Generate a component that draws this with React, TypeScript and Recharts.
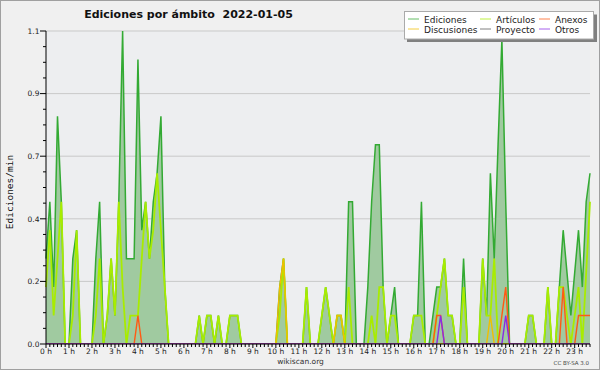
import React from 'react';
import { ComposedChart, Area, Line, XAxis, YAxis, CartesianGrid } from 'recharts';

// wikiscan, 2022-01-05: edits per minute in 10-minute buckets, 0:00 to 23:40 (143 points)
const ediciones = [
  0.3, 0.5, 0.2, 0.8, 0.5, 0, 0, 0.3, 0.4, 0, 0, 0, // 0-1 h
  0, 0.3, 0.5, 0, 0.1, 0.3, 0.1, 0.5, 1.1, 0.3, 0.3, 0.3, // 2-3 h
  1.0, 0.4, 0.5, 0.3, 0.5, 0.6, 0.8, 0.2, 0, 0, 0, 0, // 4-5 h
  0, 0, 0, 0, 0.1, 0, 0.1, 0.1, 0, 0.1, 0, 0, // 6-7 h
  0.1, 0.1, 0.1, 0, 0, 0, 0, 0, 0, 0, 0, 0, // 8-9 h
  0, 0.2, 0.3, 0, 0, 0, 0, 0, 0.2, 0, 0, 0, // 10-11 h
  0.1, 0.2, 0.1, 0, 0.1, 0.1, 0, 0.5, 0.5, 0, 0, 0, // 12-13 h
  0.2, 0.5, 0.7, 0.7, 0.2, 0, 0.1, 0.2, 0, 0, 0, 0, // 14-15 h
  0.1, 0.1, 0.5, 0, 0, 0.1, 0.2, 0.2, 0.3, 0.1, 0.1, 0, // 16-17 h
  0, 0.3, 0, 0, 0, 0, 0.3, 0.1, 0.6, 0.3, 0.7, 1.07, // 18-19 h
  0.5, 0, 0, 0, 0, 0, 0.1, 0.1, 0, 0, 0, 0.2, // 20-21 h
  0, 0, 0.2, 0.4, 0.25, 0.1, 0.25, 0.4, 0.2, 0.5, 0.6, // 22-23 h
];

const articulos = [
  0.2, 0.4, 0.1, 0.3, 0.5, 0, 0, 0.1, 0.4, 0, 0, 0,
  0, 0.1, 0.3, 0, 0.1, 0.3, 0.1, 0.5, 0.2, 0, 0.1, 0.1,
  0.1, 0.3, 0.5, 0.3, 0.4, 0.6, 0.4, 0.2, 0, 0, 0, 0,
  0, 0, 0, 0, 0.1, 0, 0.1, 0.1, 0, 0.1, 0, 0,
  0.1, 0.1, 0.1, 0, 0, 0, 0, 0, 0, 0, 0, 0,
  0, 0.1, 0.3, 0, 0, 0, 0, 0, 0.2, 0, 0, 0,
  0.1, 0.2, 0.1, 0, 0.1, 0.1, 0, 0.2, 0, 0, 0, 0,
  0, 0.1, 0, 0.2, 0.2, 0, 0.1, 0.1, 0, 0, 0, 0,
  0.1, 0.1, 0.1, 0, 0, 0, 0.1, 0.2, 0.3, 0.1, 0.1, 0,
  0, 0.2, 0, 0, 0, 0, 0.3, 0.1, 0.1, 0.3, 0, 0,
  0, 0, 0, 0, 0, 0, 0.1, 0.1, 0, 0, 0, 0.2,
  0, 0, 0.2, 0.2, 0.1, 0, 0.1, 0.2, 0, 0.25, 0.5,
];

const discusiones = [
  0, 0, 0, 0, 0, 0, 0, 0, 0, 0, 0, 0,
  0, 0, 0, 0, 0, 0, 0, 0, 0, 0, 0, 0,
  0, 0, 0, 0, 0, 0, 0, 0, 0, 0, 0, 0,
  0, 0, 0, 0, 0, 0, 0, 0, 0, 0, 0, 0,
  0, 0, 0, 0, 0, 0, 0, 0, 0, 0, 0, 0,
  0, 0.2, 0.3, 0, 0, 0, 0, 0, 0, 0, 0, 0,
  0, 0, 0, 0, 0.1, 0.1, 0, 0, 0, 0, 0, 0,
  0, 0, 0, 0, 0, 0, 0, 0, 0, 0, 0, 0,
  0, 0, 0, 0, 0, 0, 0, 0, 0, 0, 0, 0,
  0, 0, 0, 0, 0, 0, 0, 0, 0.1, 0, 0, 0,
  0, 0, 0, 0, 0, 0, 0, 0, 0, 0, 0, 0,
  0, 0, 0, 0, 0, 0, 0, 0, 0, 0, 0,
];

const anexos = [
  0, 0, 0, 0, 0, 0, 0, 0, 0, 0, 0, 0,
  0, 0, 0, 0, 0, 0, 0, 0, 0, 0, 0, 0,
  0.1, 0, 0, 0, 0, 0, 0, 0, 0, 0, 0, 0,
  0, 0, 0, 0, 0, 0, 0, 0, 0, 0, 0, 0,
  0, 0, 0, 0, 0, 0, 0, 0, 0, 0, 0, 0,
  0, 0, 0, 0, 0, 0, 0, 0, 0, 0, 0, 0,
  0, 0, 0, 0, 0, 0, 0, 0, 0, 0, 0, 0,
  0, 0, 0, 0, 0, 0, 0, 0, 0, 0, 0, 0,
  0, 0, 0, 0, 0, 0, 0.1, 0.1, 0, 0, 0, 0,
  0, 0, 0, 0, 0, 0, 0, 0, 0, 0, 0, 0.1,
  0.2, 0, 0, 0, 0, 0, 0, 0, 0, 0, 0, 0,
  0, 0, 0, 0.2, 0, 0, 0, 0.1, 0.1, 0.1, 0.1,
];

const otros = [
  0, 0, 0, 0, 0, 0, 0, 0, 0, 0, 0, 0,
  0, 0, 0, 0, 0, 0, 0, 0, 0, 0, 0, 0,
  0, 0, 0, 0, 0, 0, 0, 0, 0, 0, 0, 0,
  0, 0, 0, 0, 0, 0, 0, 0, 0, 0, 0, 0,
  0, 0, 0, 0, 0, 0, 0, 0, 0, 0, 0, 0,
  0, 0, 0, 0, 0, 0, 0, 0, 0, 0, 0, 0,
  0, 0, 0, 0, 0, 0, 0, 0, 0, 0, 0, 0,
  0, 0, 0, 0, 0, 0, 0, 0, 0, 0, 0, 0,
  0, 0, 0, 0, 0, 0, 0, 0.1, 0, 0, 0, 0,
  0, 0, 0, 0, 0, 0, 0, 0, 0, 0, 0, 0,
  0.1, 0, 0, 0, 0, 0, 0, 0, 0, 0, 0, 0,
  0, 0, 0, 0, 0, 0, 0, 0, 0, 0, 0,
];

const hourLabels = [
  '0 h', '1 h', '2 h', '3 h', '4 h', '5 h', '6 h', '7 h', '8 h', '9 h', '10 h', '11 h',
  '12 h', '13 h', '14 h', '15 h', '16 h', '17 h', '18 h', '19 h', '20 h', '21 h', '22 h', '23 h',
];
const yTicks = [0, 0.22, 0.44, 0.66, 0.88, 1.1];
const yTickLabels = ['0.0', '0.2', '0.4', '0.7', '0.9', '1.1'];

const legendItems = [
  { name: 'Ediciones', color: '#33aa33', col: 0, row: 0 },
  { name: 'Discusiones', color: '#f0be00', col: 0, row: 1 },
  { name: 'Artículos', color: '#a8ec00', col: 1, row: 0 },
  { name: 'Proyecto', color: '#555555', col: 1, row: 1 },
  { name: 'Anexos', color: '#ff5a14', col: 2, row: 0 },
  { name: 'Otros', color: '#8a2be6', col: 2, row: 1 },
];

const rows = ediciones.map((v, i) => ({
  i,
  ediciones: v,
  articulos: articulos[i],
  discusiones: discusiones[i],
  anexos: anexos[i],
  otros: otros[i],
}));

// 4 minor steps between labelled y ticks, one x tick per 10 min
const yAllTicks = [yTicks[0]].concat(
  ...yTicks.slice(1).map((t, k) => [1, 2, 3, 4].map((s) => yTicks[k] + ((t - yTicks[k]) * s) / 4))
);
const xAllTicks = rows.map((r) => r.i);

const FONT = 'DejaVu Sans';

const YTick = (props: any) => {
  const { x, y, payload } = props;
  const k = yTicks.findIndex((t) => Math.abs(t - payload.value) < 1e-6);
  const major = k >= 0;
  return (
    <g>
      <line x1={x - (major ? 6 : 3)} x2={x} y1={y} y2={y} stroke="#000" />
      {major && (
        <text x={x - 6.5} y={y + 2.7} textAnchor="end" fontSize={7.5} fontFamily={FONT} fill="#222">
          {yTickLabels[k]}
        </text>
      )}
    </g>
  );
};

const XTick = (props: any) => {
  const { x, y, payload } = props;
  const v = payload.value;
  const major = v % 6 === 0;
  return (
    <g>
      <line x1={x} x2={x} y1={y} y2={y + (major ? 4 : 3)} stroke="#000" />
      {major && (
        <text x={x} y={y + 9.5} textAnchor="middle" fontSize={7.5} fontFamily={FONT} fill="#222">
          {hourLabels[v / 6]}
        </text>
      )}
    </g>
  );
};

export default function App() {
  const colX = [408, 480, 539];
  const rowY = [19, 29];
  return (
    <div style={{ position: 'fixed', left: 0, top: 0, width: 600, height: 370, background: '#f0f0f0' }}>
      <div style={{ position: 'absolute', left: 0, top: 0 }}>
        <ComposedChart width={600} height={370} data={rows} margin={{ top: 31, right: 10, bottom: 10, left: 10 }}>
          <CartesianGrid vertical={false} horizontalValues={yTicks} stroke="#c9c9c9" fill="#edeef0" />
          <Area
            type="linear"
            dataKey="ediciones"
            stroke="#33aa33"
            strokeWidth={1.5}
            fill="#a0caa0"
            fillOpacity={1}
            dot={false}
            activeDot={false}
            isAnimationActive={false}
          />
          <Line type="linear" dataKey="articulos" stroke="#a8ec00" strokeWidth={1.8} dot={false} isAnimationActive={false} />
          <Line type="linear" dataKey="discusiones" stroke="#f0be00" strokeWidth={1.4} dot={false} isAnimationActive={false} />
          <Line type="linear" dataKey="anexos" stroke="#ff5a14" strokeWidth={1.4} dot={false} isAnimationActive={false} />
          <Line type="linear" dataKey="otros" stroke="#8a2be6" strokeWidth={1.4} dot={false} isAnimationActive={false} />
          <XAxis
            dataKey="i"
            type="number"
            domain={[0, 142]}
            ticks={xAllTicks}
            interval={0}
            height={16}
            tickLine={false}
            tickSize={0}
            tickMargin={0}
            axisLine={{ stroke: '#000' }}
            tick={(p: any) => <XTick {...p} />}
          />
          <YAxis
            type="number"
            domain={[0, 1.1]}
            ticks={yAllTicks}
            interval={0}
            width={36}
            tickLine={false}
            tickSize={0}
            tickMargin={0}
            allowDataOverflow
            axisLine={{ stroke: '#000' }}
            tick={(p: any) => <YTick {...p} />}
          />
        </ComposedChart>
      </div>
      <svg
        width={600}
        height={370}
        style={{ position: 'absolute', left: 0, top: 0, pointerEvents: 'none' }}
        fontFamily={FONT}
      >
        <rect x={0.5} y={0.5} width={599} height={369} fill="none" stroke="#a0a0a0" />
        <text x={188.5} y={18} textAnchor="middle" fontWeight="bold" fontSize={11} fill="#111" style={{ whiteSpace: 'pre' }}>
          {'Ediciones por ámbito  2022-01-05'}
        </text>
        <text
          x={13}
          y={192}
          transform="rotate(-90 13 192)"
          textAnchor="middle"
          fontSize={9.5}
          fontFamily="DejaVu Sans Mono"
          fill="#111"
        >
          Ediciones/min
        </text>
        <text x={300.5} y={364} textAnchor="middle" fontSize={7.5} fill="#333">
          wikiscan.org
        </text>
        <text x={589} y={365} textAnchor="end" fontSize={5.5} fill="#444">
          CC BY-SA 3.0
        </text>
        <rect x={407} y={14.5} width={190} height={27.5} fill="#808080" />
        <rect x={404.5} y={11.5} width={189} height={27.5} fill="#fff" stroke="#aaa" />
        {legendItems.map((it) => (
          <g key={it.name}>
            <line
              x1={colX[it.col]}
              x2={colX[it.col] + 11}
              y1={rowY[it.row]}
              y2={rowY[it.row]}
              stroke={it.color}
              strokeOpacity={0.75}
              strokeWidth={1}
            />
            <text x={colX[it.col] + 16} y={rowY[it.row] + 3.6} fontSize={9} fill="#222">
              {it.name}
            </text>
          </g>
        ))}
      </svg>
    </div>
  );
}
